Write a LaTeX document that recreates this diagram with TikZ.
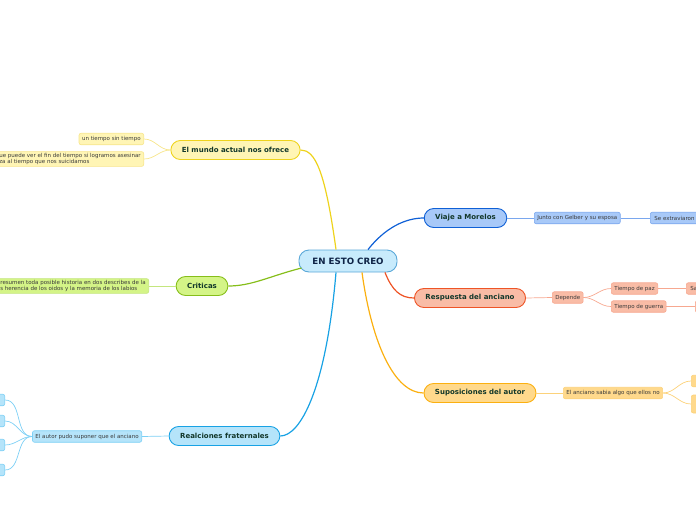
\documentclass[tikz,border=0pt]{standalone}
\usepackage{fontspec}
\setmainfont{DejaVu Sans}
\definecolor{rootfill}{HTML}{C8EBFC}
\definecolor{rootline}{HTML}{5AA8D8}
\definecolor{roottext}{HTML}{0E2346}
\definecolor{branchtext}{HTML}{12372A}
\definecolor{leaftext}{HTML}{3A3A3A}
\definecolor{yelfill}{HTML}{FFF5B5}
\definecolor{yelline}{HTML}{EED31C}
\definecolor{yeltwig}{HTML}{F7E58A}
\definecolor{grnfill}{HTML}{D4F487}
\definecolor{grnline}{HTML}{86BE1A}
\definecolor{grntwig}{HTML}{C4E67E}
\definecolor{lbfill}{HTML}{B5E4FA}
\definecolor{lbline}{HTML}{18A2E4}
\definecolor{lbtwig}{HTML}{7DD0F5}
\definecolor{dbfill}{HTML}{A8C9F8}
\definecolor{dbline}{HTML}{0F60D6}
\definecolor{dbtwig}{HTML}{7AA7EE}
\definecolor{redfill}{HTML}{F9BCA6}
\definecolor{redline}{HTML}{EE5426}
\definecolor{redtwig}{HTML}{F7A890}
\definecolor{orfill}{HTML}{FFD98C}
\definecolor{orline}{HTML}{FBB010}
\definecolor{ortwig}{HTML}{FCD27A}
\begin{document}
\begin{tikzpicture}[x=1pt, y=-1pt,
    root/.style={draw=rootline, fill=rootfill, rounded corners=10pt, line width=0.9pt,
                 minimum width=98pt, minimum height=22pt, text=roottext,
                 font=\fontsize{8.7}{10}\selectfont\bfseries},
    branch/.style={rounded corners=9.5pt, line width=0.9pt, minimum height=19pt,
                   inner xsep=11pt, text=branchtext, font=\fontsize{7}{8}\selectfont\bfseries},
    leaf/.style={rounded corners=2pt, line width=0.6pt, minimum height=11.5pt,
                 inner xsep=3pt, inner ysep=1.5pt, text=leaftext, align=left,
                 font=\fontsize{5.5}{6.4}\selectfont},
    main/.style={line width=1.2pt},
    twig/.style={line width=0.7pt}
]
    \path[use as bounding box] (0,0) rectangle (696,520);
    \clip (0,0) rectangle (696,520);

    \node[root] (root) at (348,261) {EN ESTO CREO};

    \node[branch, draw=yelline, fill=yelfill] (mundo) at (235.5,150) {El mundo actual nos ofrece};
    \node[branch, draw=grnline, fill=grnfill] (crit) at (202,286) {Criticas};
    \node[branch, draw=lbline, fill=lbfill] (frat) at (224.5,436) {Realciones fraternales};
    \node[branch, draw=dbline, fill=dbfill] (viaje) at (465.5,218) {Viaje a Morelos};
    \node[branch, draw=redline, fill=redfill] (resp) at (470,298) {Respuesta del anciano};
    \node[branch, draw=orline, fill=orfill] (supo) at (480,393) {Suposiciones del autor};

    \node[leaf, draw=yeltwig, fill=yelfill, anchor=east] (sintiempo) at (144,139) {un tiempo sin tiempo};
    \node[leaf, draw=yeltwig, fill=yelfill, anchor=east] (finitiempo) at (144,159) {ue puede ver el fin del tiempo si logramos asesinar\\za al tiempo que nos suicidamos};
    \node[leaf, draw=grntwig, fill=grnfill, anchor=east] (resumen) at (149,286) {resumen toda posible historia en dos describes de la\\s herencia de los oidos y la memoria de los labios};
    \node[leaf, draw=lbtwig, fill=lbfill, anchor=east] (autor) at (142,436.5) {El autor pudo suponer que el anciano};
    \node[leaf, draw=lbtwig, fill=lbfill, anchor=east, minimum width=30pt] (sup1) at (5,400) {};
    \node[leaf, draw=lbtwig, fill=lbfill, anchor=east, minimum width=30pt] (sup2) at (5,421) {};
    \node[leaf, draw=lbtwig, fill=lbfill, anchor=east, minimum width=30pt] (sup3) at (5,445) {};
    \node[leaf, draw=lbtwig, fill=lbfill, anchor=east, minimum width=30pt] (sup4) at (5,470) {};

    \node[leaf, draw=dbtwig, fill=dbfill, anchor=west] (junto) at (534,218) {Junto con Gelber y su esposa};
    \node[leaf, draw=dbtwig, fill=dbfill, anchor=west, minimum width=60pt, text width=52pt] (extrav) at (650,218) {Se extraviaron};

    \node[leaf, draw=redtwig, fill=redfill, anchor=west] (depende) at (552,297.5) {Depende};
    \node[leaf, draw=redtwig, fill=redfill, anchor=west] (paz) at (611,288.5) {Tiempo de paz};
    \node[leaf, draw=redtwig, fill=redfill, anchor=west] (guerra) at (611,306.5) {Tiempo de guerra};
    \node[leaf, draw=redtwig, fill=redfill, anchor=west, minimum width=40pt, text width=32pt] (pazsig) at (686,288.5) {Sa};
    \node[leaf, draw=redtwig, fill=redfill, anchor=west, minimum width=40pt] (guerrasig) at (695,306.5) {};

    \node[leaf, draw=ortwig, fill=orfill, anchor=west] (sabia) at (563,393) {El anciano sabia algo que ellos no};
    \node[leaf, draw=ortwig, fill=orfill, anchor=west, minimum width=40pt] (sabia1) at (691,381) {};
    \node[leaf, draw=ortwig, fill=orfill, anchor=west, minimum width=40pt, minimum height=18pt] (sabia2) at (691,404) {};

    \draw[main, yelline] ([xshift=-12pt]root.north) .. controls (325,170) and (315,150) .. (mundo.east);
    \draw[main, grnline] ([xshift=3pt,yshift=-7pt]root.west) .. controls (270,276) and (252,286) .. (crit.east);
    \draw[main, lbline] ([xshift=-12pt]root.south) .. controls (326,390) and (300,436) .. (frat.east);
    \draw[main, dbline] ([xshift=20pt]root.north) .. controls (385,228) and (405,218) .. (viaje.west);
    \draw[main, redline] ([xshift=37pt]root.south) .. controls (392,290) and (400,298) .. (resp.west);
    \draw[main, orline] ([xshift=14pt]root.south) .. controls (372,345) and (395,393) .. (supo.west);

    \draw[twig, yeltwig] (mundo.west) to[out=180, in=0] (sintiempo.east);
    \draw[twig, yeltwig] (mundo.west) to[out=180, in=0] (finitiempo.east);
    \draw[twig, grntwig] (crit.west) -- (resumen.east);
    \draw[twig, lbtwig] (frat.west) -- (autor.east);
    \foreach \s in {sup1, sup2, sup3, sup4}
        \draw[twig, lbtwig] (autor.west) to[out=180, in=0] (\s.east);
    \draw[twig, dbtwig] (viaje.east) -- (junto.west);
    \draw[twig, dbtwig] (junto.east) -- (extrav.west);
    \draw[twig, redtwig] (resp.east) -- (depende.west);
    \draw[twig, redtwig] (depende.east) to[out=0, in=180] (paz.west);
    \draw[twig, redtwig] (depende.east) to[out=0, in=180] (guerra.west);
    \draw[twig, redtwig] (paz.east) -- (pazsig.west);
    \draw[twig, redtwig] (guerra.east) -- (guerrasig.west);
    \draw[twig, ortwig] (supo.east) -- (sabia.west);
    \draw[twig, ortwig] (sabia.east) to[out=0, in=180] (sabia1.west);
    \draw[twig, ortwig] (sabia.east) to[out=0, in=180] (sabia2.west);
\end{tikzpicture}
\end{document}
